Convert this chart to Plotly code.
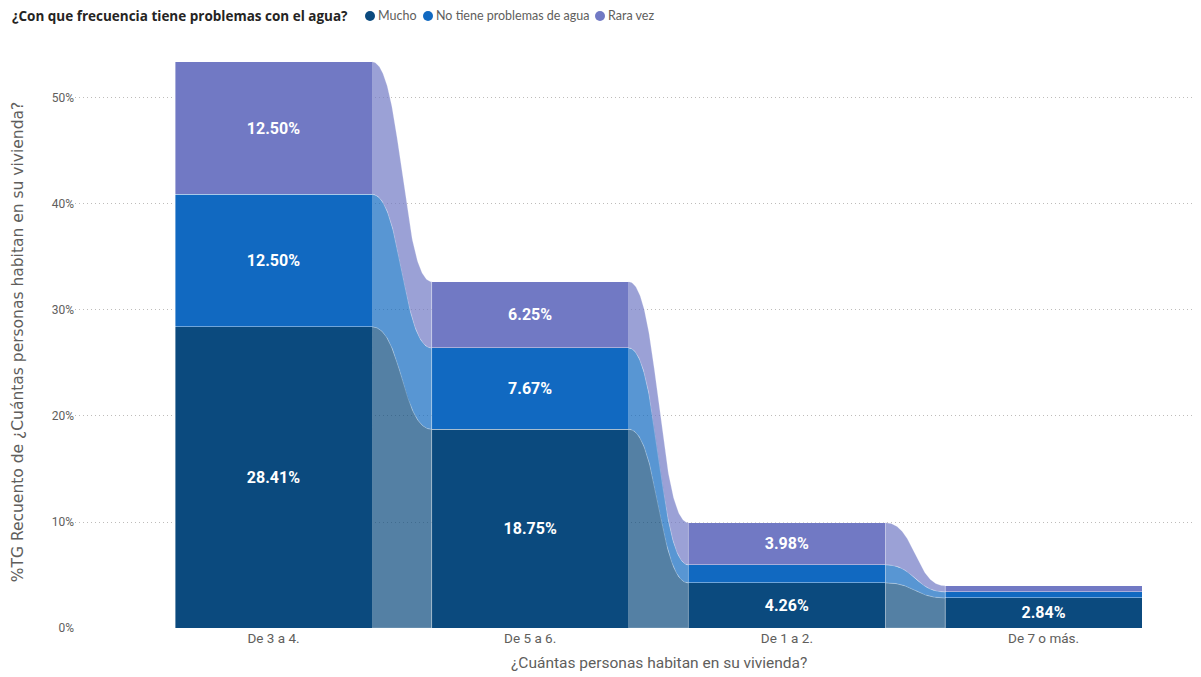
import numpy as np
import plotly.graph_objects as go

# Household size categories (x axis order as shown)
categories = ["De 3 a 4.", "De 5 a 6.", "De 1 a 2.", "De 7 o más."]

# Percent of total responses per water-problem frequency
series_names = ["Mucho", "No tiene problemas de agua", "Rara vez"]
mucho = [28.41, 18.75, 4.26, 2.84]
no_tiene = [12.50, 7.67, 1.70, 0.57]
rara_vez = [12.50, 6.25, 3.98, 0.57]
series_values = [mucho, no_tiene, rara_vez]

y_ticks = [0, 10, 20, 30, 40, 50]
y_tick_labels = [f"{v}%" for v in y_ticks]

bar_colors = ["#0B4A7E", "#1169C1", "#7179C4"]
ribbon_colors = ["rgba(11,74,126,0.70)", "rgba(17,105,193,0.70)", "rgba(113,121,196,0.70)"]

BAR_W = 0.7675
LABEL_FONT = "Roboto, sans-serif"
TEXT_GRAY = "#605E5C"

# Plot area in pixels (for placing the header legend)
PLOT_L, PLOT_R, PLOT_T, PLOT_B = 75, 1195, 56, 628


def px_to_paper(px, py):
    return (px - PLOT_L) / (PLOT_R - PLOT_L), (PLOT_B - py) / (PLOT_B - PLOT_T)


x_pos = np.arange(len(categories))

fig = go.Figure()

# Cumulative stack bounds for each series
vals = np.array(series_values, dtype=float)
tops = np.cumsum(vals, axis=0)
bottoms = tops - vals


def bezier(x0, y0, x1, y1, n=120):
    """Smooth S-curve between two bar edges (cubic with horizontal tangents)."""
    t = np.linspace(0, 1, n)
    xm = (x0 + x1) / 2
    bx = (1 - t) ** 3 * x0 + 3 * (1 - t) ** 2 * t * xm + 3 * (1 - t) * t ** 2 * xm + t ** 3 * x1
    by = (1 - t) ** 3 * y0 + 3 * (1 - t) ** 2 * t * y0 + 3 * (1 - t) * t ** 2 * y1 + t ** 3 * y1
    return bx, by


# Ribbons connecting consecutive stacks
for s in range(len(series_names)):
    for i in range(len(categories) - 1):
        xa = x_pos[i] + BAR_W / 2
        xb = x_pos[i + 1] - BAR_W / 2
        tx, ty = bezier(xa, tops[s, i], xb, tops[s, i + 1])
        bx, by = bezier(xa, bottoms[s, i], xb, bottoms[s, i + 1])
        fig.add_trace(go.Scatter(
            x=np.concatenate([tx, bx[::-1]]),
            y=np.concatenate([ty, by[::-1]]),
            fill="toself", fillcolor=ribbon_colors[s],
            mode="lines", line=dict(width=0.6, color="rgba(255,255,255,0.35)"),
            hoverinfo="skip", showlegend=False,
        ))

# Stacked bars
for s, name in enumerate(series_names):
    labels = [f"{v:.2f}%" if v >= 2 else "" for v in series_values[s]]
    fig.add_trace(go.Bar(
        x=x_pos, y=series_values[s], name=name,
        width=BAR_W,
        marker=dict(color=bar_colors[s], line=dict(color="rgba(255,255,255,0.5)", width=0.8)),
        text=labels, textposition="inside", insidetextanchor="middle",
        textangle=0,
        textfont=dict(family=LABEL_FONT, size=16, color="white", weight="bold"),
        hovertemplate="%{y:.2f}%<extra>" + name + "</extra>",
        showlegend=False,
    ))

fig.update_layout(
    barmode="stack",
    width=1201, height=677,
    margin=dict(l=PLOT_L, r=1201 - PLOT_R, t=PLOT_T, b=677 - PLOT_B),
    paper_bgcolor="white", plot_bgcolor="white",
    showlegend=False,
    font=dict(family="Open Sans, sans-serif", color=TEXT_GRAY),
    xaxis=dict(
        range=[-0.7734, 3.590],
        tickmode="array", tickvals=list(x_pos), ticktext=categories,
        tickfont=dict(family=LABEL_FONT, size=13.5, color=TEXT_GRAY),
        showgrid=False, zeroline=False, showline=False, ticks="",
    ),
    yaxis=dict(
        range=[0, 53.96],
        tickmode="array", tickvals=y_ticks, ticktext=y_tick_labels,
        tickfont=dict(family=LABEL_FONT, size=12, color=TEXT_GRAY),
        showgrid=True, gridcolor="#BEBCBA", griddash="1px,3px", gridwidth=1,
        zeroline=False, showline=False, ticks="",
        title=dict(text="%TG Recuento de ¿Cuántas personas habitan en su vivienda?",
                   font=dict(family="DejaVu Sans, sans-serif", size=15.5, color=TEXT_GRAY),
                   standoff=24),
    ),
)

# Horizontal axis title, centred over the category band
fig.add_annotation(
    text="¿Cuántas personas habitan en su vivienda?",
    xref="x", yref="paper", x=1.5, y=0, yshift=-35,
    showarrow=False, xanchor="center", yanchor="middle",
    font=dict(family=LABEL_FONT, size=15.5, color=TEXT_GRAY),
)

# Header legend: title, then a dot and label per series
LEGEND_Y = 16
tx, ty = px_to_paper(10, LEGEND_Y)
fig.add_annotation(
    text="<b>¿Con que frecuencia tiene problemas con el agua?</b>",
    xref="paper", yref="paper", x=tx, y=ty,
    showarrow=False, xanchor="left", yanchor="middle",
    font=dict(family="Open Sans, sans-serif", size=13.5, color="#252423"),
)
legend_dot_px = [370, 428, 600]
for color, name, dx in zip(bar_colors, series_names, legend_dot_px):
    cx, cy = px_to_paper(dx, LEGEND_Y)
    fig.add_shape(
        type="circle", xref="paper", yref="paper",
        xsizemode="pixel", ysizemode="pixel", xanchor=cx, yanchor=cy,
        x0=-5, x1=5, y0=-5, y1=5,
        fillcolor=color, line=dict(width=0),
    )
    lx, _ = px_to_paper(dx + 6, LEGEND_Y)
    fig.add_annotation(
        text=name, xref="paper", yref="paper", x=lx, y=cy,
        showarrow=False, xanchor="left", yanchor="middle",
        font=dict(family="Lato, sans-serif", size=12.5, color=TEXT_GRAY),
    )

fig.write_html("out.html")
